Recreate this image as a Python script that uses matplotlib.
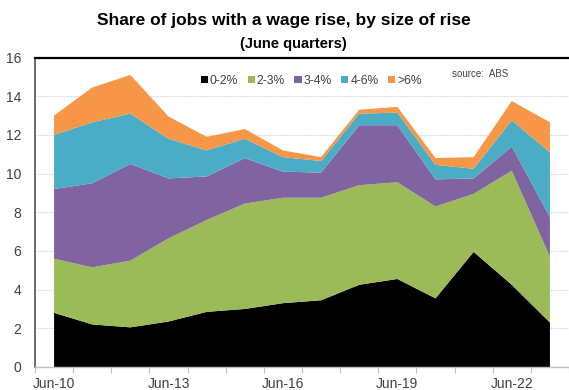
import matplotlib
matplotlib.use("Agg")
import matplotlib.pyplot as plt
from matplotlib.patches import Patch
import numpy as np

plt.rcParams["font.family"] = ["Liberation Sans", "DejaVu Sans"]

# June quarters, one point per year
years = ["Jun-10", "Jun-11", "Jun-12", "Jun-13", "Jun-14", "Jun-15", "Jun-16",
         "Jun-17", "Jun-18", "Jun-19", "Jun-20", "Jun-21", "Jun-22", "Jun-23"]

# share of jobs (%) by size of wage rise
rise_0_2 = [2.80, 2.20, 2.05, 2.35, 2.85, 3.00, 3.30, 3.45, 4.25, 4.55, 3.55, 5.95, 4.25, 2.30]
rise_2_3 = [2.80, 2.95, 3.45, 4.30, 4.75, 5.45, 5.45, 5.30, 5.15, 5.00, 4.75, 3.00, 5.90, 3.40]
rise_3_4 = [3.60, 4.35, 5.00, 3.10, 2.25, 2.35, 1.35, 1.30, 3.10, 2.95, 1.40, 0.80, 1.25, 2.05]
rise_4_6 = [2.80, 3.15, 2.60, 2.05, 1.35, 1.00, 0.75, 0.60, 0.60, 0.65, 0.75, 0.50, 1.35, 3.35]
rise_6up = [1.00, 1.80, 2.00, 1.15, 0.70, 0.50, 0.35, 0.20, 0.20, 0.30, 0.35, 0.60, 1.00, 1.55]

labels = ["0-2%", "2-3%", "3-4%", "4-6%", ">6%"]
colors = ["#000000", "#9BBB59", "#8064A2", "#4BACC6", "#F79646"]

fig = plt.figure(figsize=(5.69, 3.90), dpi=100)
ax = fig.add_axes([0.0615, 0.059, 0.9385, 0.7935])

x = np.arange(len(years))
ax.stackplot(x, rise_0_2, rise_2_3, rise_3_4, rise_4_6, rise_6up,
             colors=colors, linewidth=0, zorder=2)

ax.set_ylim(0, 16)
ax.set_yticks(range(0, 17, 2))
ax.set_xlim(-0.5, 13.41)

# category boundaries get the tick marks, every third year gets a label
ax.set_xticks(np.arange(-0.5, 14, 1.0))
ax.set_xticklabels([])
ax.set_xticks(x[::3], minor=True)
ax.set_xticklabels(years[::3], minor=True)
ax.tick_params(axis="x", which="major", length=4, color="#bfbfbf", direction="out")
ax.tick_params(axis="x", which="minor", length=0, pad=7, labelsize=10, labelcolor="#404040")
ax.tick_params(axis="y", length=0, pad=10, labelsize=10, labelcolor="#404040")

ax.grid(axis="y", color="#d0d0d0", linestyle=(0, (1, 1)), linewidth=0.8, zorder=0)
ax.set_axisbelow(True)

ax.spines["right"].set_visible(False)
ax.spines["top"].set_color("#000000")
ax.spines["top"].set_linewidth(1.6)
ax.spines["left"].set_color("#6a6a6a")
ax.spines["left"].set_linewidth(1.4)
ax.spines["bottom"].set_color("#bfbfbf")
ax.spines["bottom"].set_linewidth(1.0)

handles = [Patch(facecolor=c, edgecolor="none") for c in colors]
leg = ax.legend(handles, labels, ncol=5, loc="center", bbox_to_anchor=(0.517, 0.925),
                frameon=False, fontsize=8.7, handlelength=0.6, handleheight=0.6,
                handletextpad=0.15, columnspacing=0.8)
for t in leg.get_texts():
    t.set_color("#404040")

ax.text(0.78, 0.948, "source:  ABS", transform=ax.transAxes, fontsize=7,
        color="#404040", ha="left", va="center")

fig.text(0.499, 0.948, "Share of jobs with a wage rise, by size of rise",
         ha="center", va="center", fontsize=12.5, fontweight="bold", color="#000000")
fig.text(0.516, 0.888, "(June quarters)", ha="center", va="center",
         fontsize=10.5, fontweight="bold", color="#000000")

fig.savefig("out.png", dpi=100)
